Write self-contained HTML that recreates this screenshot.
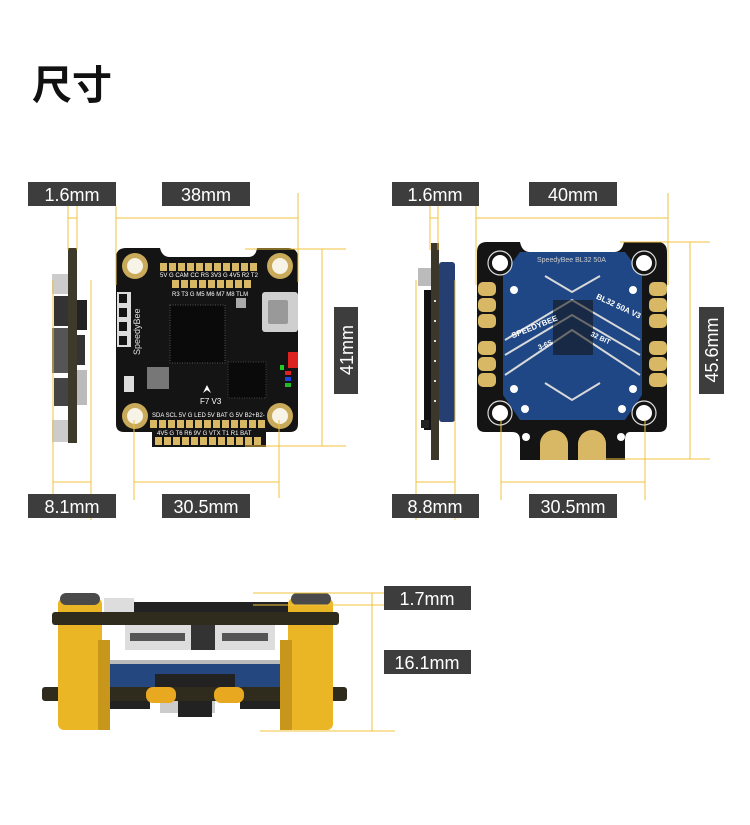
<!DOCTYPE html>
<html><head><meta charset="utf-8"><style>
html,body{margin:0;padding:0;background:#fff;width:750px;height:825px;overflow:hidden}
svg{display:block}
.lb{font-family:"Liberation Sans",sans-serif;font-size:18px;fill:#fff}
.pt{font-family:"Liberation Sans",sans-serif;font-size:6px;fill:#fff}
</style></head><body>
<svg width="750" height="825" viewBox="0 0 750 825">
<text x="32" y="99" font-family="'Liberation Sans','Noto Sans CJK SC',sans-serif" font-size="40" font-weight="bold" fill="#111">尺寸</text>

<!-- ===== FC side view ===== -->
<g>
<rect x="52" y="274" width="16" height="20" fill="#ccc"/>
<rect x="54" y="296" width="14" height="30" fill="#333"/>
<rect x="52" y="328" width="16" height="45" fill="#555"/>
<rect x="54" y="378" width="14" height="28" fill="#444"/>
<rect x="52" y="420" width="16" height="22" fill="#ccc"/>
<rect x="77" y="300" width="10" height="30" fill="#222"/>
<rect x="77" y="335" width="8" height="30" fill="#333"/>
<rect x="77" y="370" width="10" height="35" fill="#bbb"/>
<rect x="68" y="248" width="9" height="195" fill="#3d3a2c"/>
</g>

<!-- ===== FC top ===== -->
<g>
<path d="M126,248 H160 Q162,257 170,257 H248 Q256,257 257,248 H288 Q298,248 298,258 V424 Q298,432 290,432 H266 V447 H152 V432 H124 Q116,432 116,424 V258 Q116,248 126,248 Z" fill="#141414"/>
<g fill="#d9b865">
<rect x="160" y="263" width="7" height="8"/><rect x="169" y="263" width="7" height="8"/><rect x="178" y="263" width="7" height="8"/><rect x="187" y="263" width="7" height="8"/><rect x="196" y="263" width="7" height="8"/><rect x="205" y="263" width="7" height="8"/><rect x="214" y="263" width="7" height="8"/><rect x="223" y="263" width="7" height="8"/><rect x="232" y="263" width="7" height="8"/><rect x="241" y="263" width="7" height="8"/><rect x="250" y="263" width="7" height="8"/>
<rect x="172" y="280" width="7" height="8"/><rect x="181" y="280" width="7" height="8"/><rect x="190" y="280" width="7" height="8"/><rect x="199" y="280" width="7" height="8"/><rect x="208" y="280" width="7" height="8"/><rect x="217" y="280" width="7" height="8"/><rect x="226" y="280" width="7" height="8"/><rect x="235" y="280" width="7" height="8"/><rect x="244" y="280" width="7" height="8"/>
<rect x="150" y="420" width="7" height="8"/><rect x="159" y="420" width="7" height="8"/><rect x="168" y="420" width="7" height="8"/><rect x="177" y="420" width="7" height="8"/><rect x="186" y="420" width="7" height="8"/><rect x="195" y="420" width="7" height="8"/><rect x="204" y="420" width="7" height="8"/><rect x="213" y="420" width="7" height="8"/><rect x="222" y="420" width="7" height="8"/><rect x="231" y="420" width="7" height="8"/><rect x="240" y="420" width="7" height="8"/><rect x="249" y="420" width="7" height="8"/><rect x="258" y="420" width="7" height="8"/>
<rect x="155" y="437" width="7" height="8"/><rect x="164" y="437" width="7" height="8"/><rect x="173" y="437" width="7" height="8"/><rect x="182" y="437" width="7" height="8"/><rect x="191" y="437" width="7" height="8"/><rect x="200" y="437" width="7" height="8"/><rect x="209" y="437" width="7" height="8"/><rect x="218" y="437" width="7" height="8"/><rect x="227" y="437" width="7" height="8"/><rect x="236" y="437" width="7" height="8"/><rect x="245" y="437" width="7" height="8"/><rect x="254" y="437" width="7" height="8"/>
</g>
<text class="pt" x="160" y="277">5V  G CAM CC RS 3V3 G 4V5 R2 T2</text>
<text class="pt" x="172" y="296">R3 T3 G  M5 M6 M7 M8 TLM</text>
<text class="pt" x="152" y="417">SDA SCL 5V  G  LED 5V BAT G  5V B2+B2-</text>
<text class="pt" x="157" y="435">4V5 G  T6  R6 9V  G VTX T1 R1 BAT</text>
<g fill="#c9a95a"><circle cx="135" cy="266" r="13"/><circle cx="280" cy="266" r="13"/><circle cx="135" cy="416" r="13"/><circle cx="280" cy="416" r="13"/></g>
<g fill="#f7f3e6"><circle cx="135" cy="266" r="8"/><circle cx="280" cy="266" r="8"/><circle cx="135" cy="416" r="8"/><circle cx="280" cy="416" r="8"/></g>
<rect x="170" y="305" width="55" height="58" fill="#0a0a0a" stroke="#555" stroke-width="1" stroke-dasharray="1 1.5"/>
<rect x="228" y="362" width="38" height="36" fill="#0a0a0a" stroke="#444" stroke-width="1" stroke-dasharray="1 1.5"/>
<rect x="147" y="367" width="22" height="22" fill="#777"/>
<rect x="262" y="292" width="36" height="40" rx="3" fill="#cfcfcf"/>
<rect x="268" y="300" width="20" height="24" rx="2" fill="#999"/>
<rect x="117" y="292" width="14" height="55" fill="#fff" opacity="0.85"/>
<rect x="119" y="294" width="8" height="9" fill="#141414"/><rect x="119" y="308" width="8" height="9" fill="#141414"/><rect x="119" y="322" width="8" height="9" fill="#141414"/><rect x="119" y="336" width="8" height="9" fill="#141414"/>
<text x="0" y="0" transform="translate(140,355) rotate(-90)" font-family="Liberation Sans,sans-serif" font-size="9" fill="#ddd">SpeedyBee</text>
<rect x="288" y="352" width="10" height="16" fill="#d22"/>
<rect x="285" y="371" width="6" height="4" fill="#d22"/><rect x="285" y="377" width="6" height="4" fill="#24d"/><rect x="285" y="383" width="6" height="4" fill="#2b2"/>
<rect x="280" y="365" width="4" height="5" fill="#2c2"/>
<rect x="124" y="376" width="10" height="16" fill="#ddd"/>
<rect x="236" y="298" width="10" height="10" fill="#aaa"/>
<path d="M203,393 L207,385 L211,393 L207,390 Z" fill="#fff"/>
<text x="200" y="404" font-family="Liberation Sans,sans-serif" font-size="8" fill="#fff">F7 V3</text>
</g>

<!-- ===== ESC side view ===== -->
<g>
<rect x="418" y="268" width="13" height="18" fill="#bbb"/>
<rect x="424" y="290" width="7" height="140" fill="#111"/>
<rect x="421" y="420" width="8" height="8" fill="#222"/>
<rect x="439" y="262" width="16" height="160" rx="3" fill="#253f73"/>
<rect x="431" y="243" width="8" height="217" fill="#3b382b"/>
<g fill="#ddd"><rect x="434" y="300" width="2" height="2"/><rect x="434" y="320" width="2" height="2"/><rect x="434" y="340" width="2" height="2"/><rect x="434" y="360" width="2" height="2"/><rect x="434" y="380" width="2" height="2"/><rect x="434" y="400" width="2" height="2"/></g>
</g>

<!-- ===== ESC top ===== -->
<g>
<path d="M487,242 H520 Q522,252 530,252 H614 Q622,252 624,242 H657 Q667,242 667,252 V424 Q667,432 659,432 H630 Q625,432 625,440 V460 H520 V440 Q520,432 512,432 H485 Q477,432 477,424 V252 Q477,242 487,242 Z" fill="#141414"/>
<path d="M520,252 H625 L642,275 V395 L625,420 H520 L503,395 V275 Z" fill="#1f4785"/>
<g stroke="#d9d9d9" stroke-width="2" fill="none">
<path d="M505,340 L572,300 L640,340"/><path d="M505,355 L572,315 L640,355"/><path d="M505,375 L572,330 L640,375"/>
<path d="M505,305 L572,345 L640,305" opacity="0"/>
<path d="M545,276 L572,292 L600,276"/>
<path d="M545,383 L572,400 L600,383"/>
</g>
<rect x="553" y="300" width="40" height="55" fill="#111" opacity="0.55"/>
<text x="508" y="330" transform="rotate(-22 532 322)" font-family="Liberation Sans,sans-serif" font-size="8" font-weight="bold" fill="#fff">SPEEDYBEE</text>
<text x="590" y="306" transform="rotate(25 610 315)" font-family="Liberation Sans,sans-serif" font-size="8" font-weight="bold" fill="#fff">BL32 50A V3</text>
<text x="537" y="347" transform="rotate(-22 545 343)" font-family="Liberation Sans,sans-serif" font-size="7" font-weight="bold" fill="#fff">3-6S</text>
<text x="590" y="340" transform="rotate(25 600 338)" font-family="Liberation Sans,sans-serif" font-size="7" font-weight="bold" fill="#fff">32 BIT</text>
<text x="537" y="262" font-family="Liberation Sans,sans-serif" font-size="7" fill="#ccc">SpeedyBee BL32 50A</text>
<g fill="#d9b865">
<rect x="478" y="282" width="18" height="14" rx="5"/><rect x="478" y="298" width="18" height="14" rx="5"/><rect x="478" y="314" width="18" height="14" rx="5"/>
<rect x="478" y="341" width="18" height="14" rx="5"/><rect x="478" y="357" width="18" height="14" rx="5"/><rect x="478" y="373" width="18" height="14" rx="5"/>
<rect x="649" y="282" width="18" height="14" rx="5"/><rect x="649" y="298" width="18" height="14" rx="5"/><rect x="649" y="314" width="18" height="14" rx="5"/>
<rect x="649" y="341" width="18" height="14" rx="5"/><rect x="649" y="357" width="18" height="14" rx="5"/><rect x="649" y="373" width="18" height="14" rx="5"/>
<path d="M540,460 V444 A14,14 0 0 1 568,444 V460 Z"/><path d="M578,460 V444 A14,14 0 0 1 606,444 V460 Z"/>
</g>
<g fill="#141414" stroke="#ddd" stroke-width="1.2"><circle cx="500" cy="263" r="12"/><circle cx="644" cy="263" r="12"/><circle cx="500" cy="413" r="12"/><circle cx="644" cy="413" r="12"/></g>
<g fill="#fff"><circle cx="500" cy="263" r="8"/><circle cx="644" cy="263" r="8"/><circle cx="500" cy="413" r="8"/><circle cx="644" cy="413" r="8"/></g>
<g fill="#fff"><circle cx="514" cy="290" r="4"/><circle cx="633" cy="290" r="4"/><circle cx="514" cy="389" r="4"/><circle cx="633" cy="389" r="4"/><circle cx="525" cy="409" r="4"/><circle cx="622" cy="409" r="4"/><circle cx="526" cy="437" r="4"/><circle cx="621" cy="437" r="4"/></g>
</g>

<!-- ===== Bottom stack ===== -->
<g>
<rect x="108" y="602" width="180" height="12" fill="#222"/>
<rect x="104" y="598" width="30" height="16" fill="#ddd"/>
<rect x="125" y="625" width="66" height="25" fill="#ddd"/>
<rect x="215" y="625" width="60" height="25" fill="#ddd"/>
<rect x="130" y="633" width="55" height="8" fill="#555"/><rect x="222" y="633" width="46" height="8" fill="#555"/>
<rect x="191" y="625" width="24" height="25" fill="#333"/>
<rect x="105" y="660" width="182" height="6" rx="3" fill="#bbb"/>
<rect x="105" y="664" width="182" height="24" rx="3" fill="#23477e"/>
<rect x="155" y="674" width="80" height="14" fill="#222"/>
<rect x="42" y="687" width="305" height="14" rx="3" fill="#2f2c1e"/>
<rect x="105" y="701" width="45" height="8" fill="#222"/><rect x="240" y="701" width="45" height="8" fill="#222"/>
<rect x="160" y="701" width="55" height="12" fill="#ccc"/>
<rect x="178" y="701" width="34" height="16" fill="#222"/>
<rect x="146" y="687" width="30" height="16" rx="7" fill="#e8a820"/>
<rect x="214" y="687" width="30" height="16" rx="7" fill="#e8a820"/>
<rect x="58" y="598" width="44" height="132" rx="6" fill="#eab625"/>
<rect x="288" y="598" width="45" height="132" rx="6" fill="#eab625"/>
<rect x="98" y="640" width="12" height="90" fill="#c8961a"/><rect x="280" y="640" width="12" height="90" fill="#c8961a"/>
<rect x="60" y="593" width="40" height="12" rx="6" fill="#4a4a4a"/>
<rect x="291" y="593" width="40" height="12" rx="6" fill="#4a4a4a"/>
<rect x="52" y="612" width="287" height="13" rx="3" fill="#2f2c1e"/>
</g>

<!-- ===== Yellow dimension lines ===== -->
<g stroke="#f0c23c" stroke-width="1" fill="none">
<line x1="68" y1="206" x2="68" y2="250"/><line x1="77" y1="206" x2="77" y2="250"/><line x1="68" y1="218" x2="77" y2="218"/>
<line x1="116" y1="218" x2="298" y2="218"/><line x1="116" y1="206" x2="116" y2="285"/><line x1="298" y1="193" x2="298" y2="282"/>
<line x1="245" y1="249" x2="346" y2="249"/><line x1="245" y1="446" x2="346" y2="446"/><line x1="322" y1="249" x2="322" y2="446"/>
<line x1="53" y1="280" x2="53" y2="500"/><line x1="91" y1="280" x2="91" y2="520"/><line x1="53" y1="482" x2="91" y2="482"/>
<line x1="134" y1="420" x2="134" y2="500"/><line x1="279" y1="420" x2="279" y2="498"/><line x1="134" y1="482" x2="279" y2="482"/>
<line x1="430" y1="206" x2="430" y2="250"/><line x1="438" y1="206" x2="438" y2="250"/><line x1="430" y1="218" x2="438" y2="218"/>
<line x1="476" y1="218" x2="668" y2="218"/><line x1="476" y1="206" x2="476" y2="285"/><line x1="668" y1="193" x2="668" y2="285"/>
<line x1="620" y1="242" x2="710" y2="242"/><line x1="605" y1="459" x2="710" y2="459"/><line x1="690" y1="242" x2="690" y2="459"/>
<line x1="416" y1="280" x2="416" y2="520"/><line x1="455" y1="280" x2="455" y2="520"/><line x1="416" y1="482" x2="455" y2="482"/>
<line x1="501" y1="420" x2="501" y2="500"/><line x1="645" y1="420" x2="645" y2="500"/><line x1="501" y1="482" x2="645" y2="482"/>
<line x1="253" y1="593" x2="384" y2="593"/><line x1="253" y1="605" x2="384" y2="605"/><line x1="372" y1="593" x2="372" y2="731"/><line x1="260" y1="731" x2="395" y2="731"/>
</g>

<!-- ===== Labels ===== -->
<g fill="#3d3d3d">
<rect x="28" y="182" width="88" height="24"/><rect x="162" y="182" width="88" height="24"/>
<rect x="28" y="494" width="88" height="24"/><rect x="162" y="494" width="88" height="24"/>
<rect x="334" y="307" width="24" height="87"/>
<rect x="392" y="182" width="87" height="24"/><rect x="529" y="182" width="88" height="24"/>
<rect x="392" y="494" width="87" height="24"/><rect x="529" y="494" width="88" height="24"/>
<rect x="699" y="307" width="25" height="87"/>
<rect x="384" y="586" width="87" height="24"/><rect x="384" y="650" width="87" height="24"/>
</g>
<g class="lb" text-anchor="middle">
<text class="lb" x="72" y="201">1.6mm</text><text class="lb" x="206" y="201">38mm</text>
<text class="lb" x="72" y="513">8.1mm</text><text class="lb" x="206" y="513">30.5mm</text>
<text class="lb" x="0" y="0" transform="translate(353,350) rotate(-90)">41mm</text>
<text class="lb" x="435" y="201">1.6mm</text><text class="lb" x="573" y="201">40mm</text>
<text class="lb" x="435" y="513">8.8mm</text><text class="lb" x="573" y="513">30.5mm</text>
<text class="lb" x="0" y="0" transform="translate(718,350) rotate(-90)">45.6mm</text>
<text class="lb" x="427" y="605">1.7mm</text><text class="lb" x="427" y="669">16.1mm</text>
</g>
</svg>
</body></html>
